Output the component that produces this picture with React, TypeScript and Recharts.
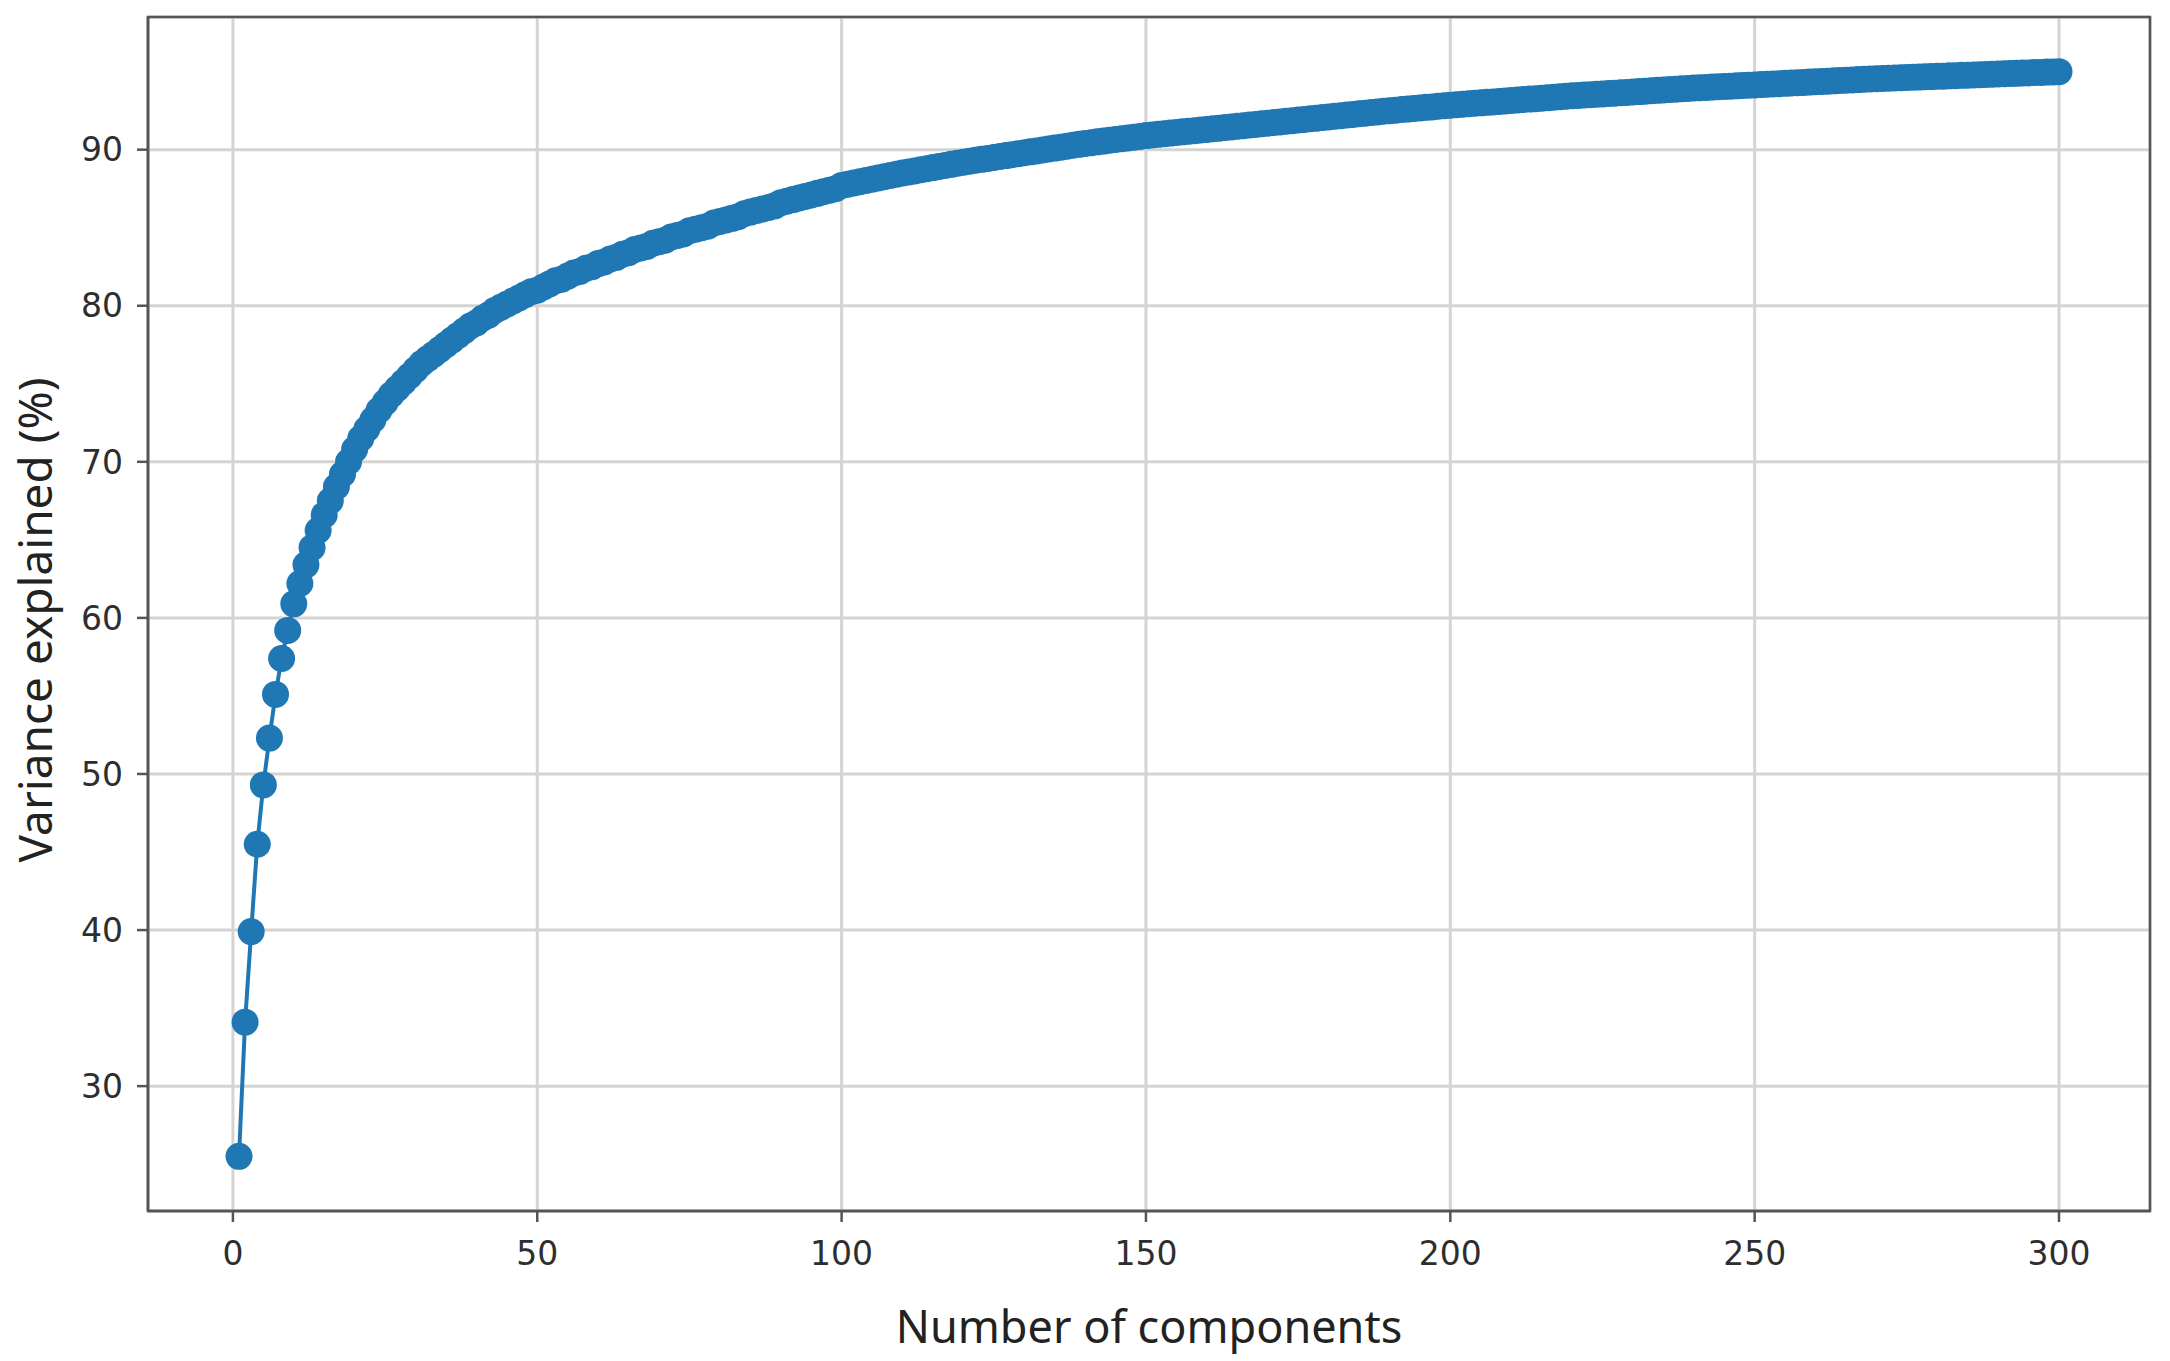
import { LineChart, Line, XAxis, YAxis, CartesianGrid, ReferenceArea } from 'recharts';

// cumulative variance explained (%) for components 1..300
const variance: number[] = [
  25.5, 34.1, 39.9, 45.5, 49.3, 52.3, 55.1, 57.4, 59.2, 60.9,
  62.2, 63.4, 64.5, 65.6, 66.6, 67.5, 68.4, 69.2, 70.0, 70.8,
  71.5, 72.1, 72.7, 73.3, 73.8, 74.3, 74.7, 75.1, 75.5, 75.9,
  76.3, 76.6, 76.9, 77.2, 77.5, 77.8, 78.1, 78.4, 78.7, 78.9,
  79.2, 79.4, 79.7, 79.9, 80.1, 80.3, 80.5, 80.7, 80.9, 81.0,
  81.2, 81.4, 81.6, 81.7, 81.9, 82.1, 82.2, 82.4, 82.5, 82.7,
  82.8, 83.0, 83.1, 83.3, 83.4, 83.6, 83.7, 83.8, 84.0, 84.1,
  84.2, 84.4, 84.5, 84.6, 84.8, 84.9, 85.0, 85.1, 85.3, 85.4,
  85.5, 85.6, 85.7, 85.9, 86.0, 86.1, 86.2, 86.3, 86.4, 86.6,
  86.7, 86.8, 86.9, 87.0, 87.1, 87.2, 87.3, 87.4, 87.5, 87.7,
  87.78, 87.86, 87.94, 88.02, 88.1, 88.18, 88.26, 88.34, 88.42, 88.5,
  88.57, 88.64, 88.71, 88.78, 88.85, 88.92, 88.99, 89.06, 89.13, 89.2,
  89.26, 89.32, 89.38, 89.44, 89.5, 89.56, 89.62, 89.68, 89.74, 89.8,
  89.86, 89.92, 89.98, 90.04, 90.1, 90.16, 90.22, 90.28, 90.34, 90.4,
  90.45, 90.5, 90.55, 90.6, 90.65, 90.7, 90.75, 90.8, 90.85, 90.9,
  90.94, 90.98, 91.02, 91.06, 91.1, 91.14, 91.18, 91.22, 91.26, 91.3,
  91.34, 91.38, 91.42, 91.46, 91.5, 91.54, 91.58, 91.62, 91.66, 91.7,
  91.74, 91.78, 91.82, 91.86, 91.9, 91.94, 91.98, 92.02, 92.06, 92.1,
  92.14, 92.18, 92.22, 92.26, 92.3, 92.34, 92.38, 92.42, 92.46, 92.5,
  92.53, 92.57, 92.6, 92.64, 92.67, 92.71, 92.74, 92.78, 92.81, 92.85,
  92.88, 92.91, 92.94, 92.97, 93.0, 93.03, 93.06, 93.09, 93.12, 93.15,
  93.18, 93.21, 93.24, 93.27, 93.3, 93.33, 93.36, 93.39, 93.42, 93.45,
  93.47, 93.5, 93.52, 93.55, 93.57, 93.6, 93.62, 93.65, 93.67, 93.7,
  93.72, 93.75, 93.77, 93.8, 93.82, 93.85, 93.87, 93.9, 93.92, 93.95,
  93.97, 93.99, 94.01, 94.03, 94.05, 94.07, 94.09, 94.11, 94.13, 94.15,
  94.17, 94.19, 94.21, 94.23, 94.25, 94.27, 94.29, 94.31, 94.33, 94.35,
  94.37, 94.39, 94.41, 94.43, 94.45, 94.47, 94.49, 94.51, 94.53, 94.55,
  94.56, 94.58, 94.59, 94.61, 94.62, 94.64, 94.65, 94.67, 94.68, 94.7,
  94.71, 94.73, 94.74, 94.76, 94.77, 94.79, 94.8, 94.82, 94.83, 94.85,
  94.86, 94.88, 94.89, 94.91, 94.92, 94.94, 94.95, 94.97, 94.98, 95.0,
];

const xTicks = [0, 50, 100, 150, 200, 250, 300];
const yTicks = [30, 40, 50, 60, 70, 80, 90];
const xDomain: [number, number] = [-13.95, 314.95];
const yDomain: [number, number] = [22, 98.5];

const data = variance.map((v, i) => ({ n: i + 1, v }));

const BLUE = '#1f77b4';
const SPINE = '#555555';
const tickStyle = { fill: '#2e2e2e', fontSize: 33, fontFamily: 'DejaVu Sans' };

function YLabel({ viewBox }: any) {
  const cx = 34;
  const cy = viewBox.y + viewBox.height / 2 + 6;
  return (
    <text
      x={cx}
      y={cy}
      transform={`rotate(-90, ${cx}, ${cy})`}
      textAnchor="middle"
      dominantBaseline="central"
      fill="#222222"
      fontSize={46}
      fontFamily="Noto Sans"
    >
      Variance explained (%)
    </text>
  );
}

export default function App() {
  return (
    <div style={{ position: 'absolute', left: 0, top: 0, background: '#fff' }}>
      <LineChart width={2170} height={1361} data={data} margin={{ top: 17, right: 20, left: 0, bottom: 0 }}>
        <CartesianGrid stroke="#d4d4d4" strokeWidth={3} />
        <XAxis
          dataKey="n"
          type="number"
          domain={xDomain}
          ticks={xTicks}
          allowDataOverflow
          height={150}
          tick={tickStyle}
          tickSize={11}
          tickMargin={20}
          tickLine={{ stroke: SPINE, strokeWidth: 2.5 }}
          axisLine={{ stroke: SPINE, strokeWidth: 2.5 }}
          label={{
            value: 'Number of components',
            position: 'insideBottom',
            offset: 18,
            fill: '#222222',
            fontSize: 45,
            fontFamily: 'Noto Sans',
          }}
        />
        <YAxis
          type="number"
          domain={yDomain}
          ticks={yTicks}
          allowDataOverflow
          width={148}
          tick={tickStyle}
          tickSize={11}
          tickMargin={14}
          tickLine={{ stroke: SPINE, strokeWidth: 2.5 }}
          axisLine={{ stroke: SPINE, strokeWidth: 2.5 }}
          label={<YLabel />}
        />
        <ReferenceArea
          x1={xDomain[0]}
          x2={xDomain[1]}
          y1={yDomain[0]}
          y2={yDomain[1]}
          fill="none"
          fillOpacity={0}
          stroke={SPINE}
          strokeWidth={2.5}
        />
        <Line
          dataKey="v"
          stroke={BLUE}
          strokeWidth={4}
          dot={{ r: 13.5, fill: BLUE, stroke: 'none' }}
          isAnimationActive={false}
        />
      </LineChart>
    </div>
  );
}
